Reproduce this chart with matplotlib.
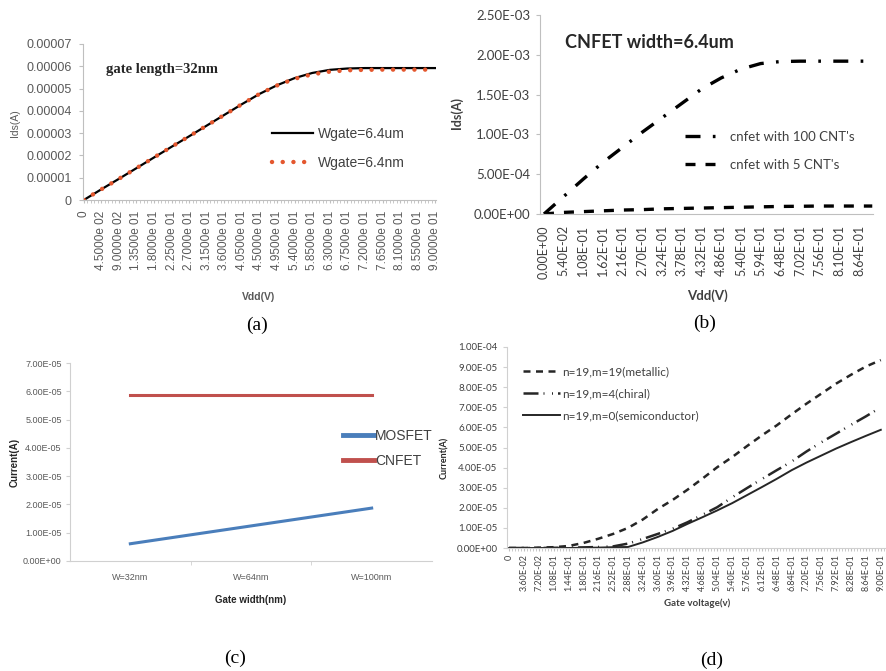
import matplotlib
matplotlib.use('Agg')
import matplotlib.pyplot as plt
from matplotlib.ticker import MultipleLocator

plt.rcParams['font.family'] = ['Liberation Sans', 'DejaVu Sans']

W, H = 887, 671

# ---------- (a) gate length = 32nm ----------
vdd_a = [0, 0.045, 0.09, 0.135, 0.18, 0.225, 0.27, 0.315, 0.36, 0.405, 0.45,
         0.495, 0.54, 0.585, 0.63, 0.675, 0.72, 0.765, 0.81, 0.855, 0.9]
ids_a_um = [0, 0.48e-5, 0.95e-5, 1.43e-5, 1.91e-5, 2.39e-5, 2.86e-5, 3.34e-5, 3.82e-5, 4.3e-5, 4.76e-5,
            5.15e-5, 5.47e-5, 5.7e-5, 5.84e-5, 5.9e-5, 5.92e-5, 5.92e-5, 5.92e-5, 5.92e-5, 5.92e-5]
ids_a_nm = [0, 0.48e-5, 0.95e-5, 1.43e-5, 1.91e-5, 2.39e-5, 2.86e-5, 3.34e-5, 3.82e-5, 4.3e-5, 4.76e-5,
            5.14e-5, 5.44e-5, 5.64e-5, 5.76e-5, 5.82e-5, 5.84e-5, 5.85e-5, 5.85e-5, 5.85e-5, 5.85e-5]
xlabels_a = ['0', '4.5000e 02', '9.0000e 02', '1.3500e 01', '1.8000e 01', '2.2500e 01',
             '2.7000e 01', '3.1500e 01', '3.6000e 01', '4.0500e 01', '4.5000e 01', '4.9500e 01',
             '5.4000e 01', '5.8500e 01', '6.3000e 01', '6.7500e 01', '7.2000e 01', '7.6500e 01',
             '8.1000e 01', '8.5500e 01', '9.0000e 01']
yticks_a = [0, 1e-5, 2e-5, 3e-5, 4e-5, 5e-5, 6e-5, 7e-5]
ylabels_a = ['0', '0.00001', '0.00002', '0.00003', '0.00004', '0.00005', '0.00006', '0.00007']

# ---------- (b) CNFET width = 6.4um ----------
vdd_b = [0, 0.054, 0.108, 0.162, 0.216, 0.27, 0.324, 0.378, 0.432, 0.486, 0.54,
         0.594, 0.648, 0.702, 0.756, 0.81, 0.864, 0.9]
ids_100 = [0, 0.22e-3, 0.44e-3, 0.65e-3, 0.84e-3, 1.03e-3, 1.21e-3, 1.39e-3, 1.57e-3, 1.71e-3, 1.82e-3,
           1.89e-3, 1.915e-3, 1.92e-3, 1.92e-3, 1.92e-3, 1.92e-3, 1.92e-3]
ids_5 = [0, 0.02e-3, 0.03e-3, 0.04e-3, 0.05e-3, 0.055e-3, 0.065e-3, 0.07e-3, 0.075e-3, 0.08e-3,
         0.085e-3, 0.09e-3, 0.095e-3, 0.097e-3, 0.1e-3, 0.1e-3, 0.1e-3, 0.1e-3]
xlabels_b = ['0.00E+00', '5.40E-02', '1.08E-01', '1.62E-01', '2.16E-01', '2.70E-01', '3.24E-01',
             '3.78E-01', '4.32E-01', '4.86E-01', '5.40E-01', '5.94E-01', '6.48E-01', '7.02E-01',
             '7.56E-01', '8.10E-01', '8.64E-01']
yticks_b = [0, 0.5e-3, 1.0e-3, 1.5e-3, 2.0e-3, 2.5e-3]
ylabels_b = ['0.00E+00', '5.00E-04', '1.00E-03', '1.50E-03', '2.00E-03', '2.50E-03']

# ---------- (c) MOSFET vs CNFET ----------
widths_c = ['W=32nm', 'W=64nm', 'W=100nm']
mosfet_c = [0.61e-5, 1.24e-5, 1.87e-5]
cnfet_c = [5.86e-5, 5.86e-5, 5.86e-5]
yticks_c = [0, 1e-5, 2e-5, 3e-5, 4e-5, 5e-5, 6e-5, 7e-5]
ylabels_c = ['0.00E+00', '1.00E-05', '2.00E-05', '3.00E-05', '4.00E-05', '5.00E-05', '6.00E-05', '7.00E-05']

# ---------- (d) chirality ----------
vg_d = [0, 0.036, 0.072, 0.108, 0.144, 0.18, 0.216, 0.252, 0.288, 0.324, 0.36, 0.396, 0.432,
        0.468, 0.504, 0.54, 0.576, 0.612, 0.648, 0.684, 0.72, 0.756, 0.792, 0.828, 0.864, 0.9]
i_metallic = [0, 0, 0.02e-5, 0.04e-5, 0.1e-5, 0.25e-5, 0.46e-5, 0.7e-5, 1.0e-5, 1.42e-5, 1.94e-5,
              2.39e-5, 2.9e-5, 3.45e-5, 4.02e-5, 4.52e-5, 5.07e-5, 5.6e-5, 6.1e-5, 6.65e-5, 7.18e-5,
              7.68e-5, 8.18e-5, 8.62e-5, 9.03e-5, 9.35e-5]
i_chiral = [0, 0, 0, 0.01e-5, 0.02e-5, 0.03e-5, 0.05e-5, 0.08e-5, 0.22e-5, 0.45e-5, 0.7e-5,
            0.96e-5, 1.28e-5, 1.65e-5, 2.03e-5, 2.52e-5, 2.98e-5, 3.43e-5, 3.87e-5, 4.3e-5, 4.8e-5,
            5.26e-5, 5.69e-5, 6.13e-5, 6.55e-5, 7.0e-5]
i_semi = [0, 0, 0, 0, 0, 0.01e-5, 0.02e-5, 0.04e-5, 0.05e-5, 0.28e-5, 0.55e-5, 0.85e-5, 1.2e-5,
          1.53e-5, 1.87e-5, 2.23e-5, 2.63e-5, 3.03e-5, 3.44e-5, 3.87e-5, 4.25e-5, 4.6e-5, 4.95e-5,
          5.27e-5, 5.58e-5, 5.88e-5]
xlabels_d = ['0', '3.60E-02', '7.20E-02', '1.08E-01', '1.44E-01', '1.80E-01', '2.16E-01', '2.52E-01',
             '2.88E-01', '3.24E-01', '3.60E-01', '3.96E-01', '4.32E-01', '4.68E-01', '5.04E-01',
             '5.40E-01', '5.76E-01', '6.12E-01', '6.48E-01', '6.84E-01', '7.20E-01', '7.56E-01',
             '7.92E-01', '8.28E-01', '8.64E-01', '9.00E-01']
yticks_d = [0, 1e-5, 2e-5, 3e-5, 4e-5, 5e-5, 6e-5, 7e-5, 8e-5, 9e-5, 1e-4]
ylabels_d = ['0.00E+00', '1.00E-05', '2.00E-05', '3.00E-05', '4.00E-05', '5.00E-05', '6.00E-05',
             '7.00E-05', '8.00E-05', '9.00E-05', '1.00E-04']


def rect(l, t, r, b):
    return [l / W, 1 - b / H, (r - l) / W, (b - t) / H]


def ftext(x, y, s, **kw):
    kw.setdefault('ha', 'center')
    kw.setdefault('va', 'center')
    fig.text(x / W, 1 - y / H, s, **kw)


def clean(ax, color='#BFBFBF'):
    for s in ['top', 'right']:
        ax.spines[s].set_visible(False)
    for s in ['left', 'bottom']:
        ax.spines[s].set_color(color)
        ax.spines[s].set_linewidth(0.8)


fig = plt.figure(figsize=(W / 100, H / 100), dpi=100)
grey = '#595959'
calibri = ['Lato', 'DejaVu Sans']
serif = ['Liberation Serif', 'DejaVu Serif']

# ----- (a) -----
ax = fig.add_axes(rect(83, 44, 436, 200))
clean(ax)
ax.plot(vdd_a, ids_a_um, color='black', lw=1.6, label='Wgate=6.4um')
ax.plot(vdd_a, ids_a_nm, color='#E4572E', lw=3.2, linestyle=(0, (0.01, 2.4)),
        dash_capstyle='round', label='Wgate=6.4nm')
ax.set_xlim(-0.002, 0.902)
ax.set_ylim(0, 7e-5)
ax.set_xticks(vdd_a)
ax.set_xticklabels(xlabels_a, rotation=90, fontsize=8.5, color=grey)
ax.xaxis.set_minor_locator(MultipleLocator(0.009))
ax.tick_params(axis='x', which='both', length=2.5, color='#BFBFBF', pad=5)
ax.set_yticks(yticks_a)
ax.set_yticklabels(ylabels_a, fontsize=9, color=grey)
ax.tick_params(axis='y', length=3, color='#BFBFBF', pad=5)
ax.legend(loc='upper left', bbox_to_anchor=(272 / W, 1 - 127 / H), bbox_transform=fig.transFigure,
          frameon=False, fontsize=10, handlelength=2.95, handletextpad=0.35, labelspacing=1.1,
          borderpad=0, borderaxespad=0, labelcolor='#404040')
ftext(15, 123, 'Ids(A)', rotation=90, fontsize=7.5, color=grey)
ftext(259, 297, 'Vdd(V)', fontsize=7.5, color=grey, fontweight='bold')
ftext(106, 69, 'gate length=32nm', ha='left', fontsize=10.5, fontweight='bold',
      family=serif, color='#262626')
ftext(257, 325, '(a)', fontsize=14, family=serif)

# ----- (b) -----
ax = fig.add_axes(rect(540, 15, 873, 214))
clean(ax)
ax.plot(vdd_b, ids_100, color='black', lw=2.4, linestyle=(0, (4.5, 3.7, 0.8, 3.7)),
        label="cnfet with 100 CNT's")
ax.plot(vdd_b, ids_5, color='black', lw=2.4, linestyle=(0, (3.0, 3.0)),
        label="cnfet with 5 CNT's")
ax.set_xlim(-0.011, 0.902)
ax.set_ylim(0, 2.5e-3)
ax.set_xticks(vdd_b[:17])
ax.set_xticklabels(xlabels_b, rotation=90, fontsize=9, color='#404040', family=calibri)
ax.tick_params(axis='x', length=0, pad=8)
ax.set_yticks(yticks_b)
ax.set_yticklabels(ylabels_b, fontsize=9.5, color='#404040', family=calibri)
ax.tick_params(axis='y', length=3, color='#BFBFBF', pad=4)
ax.legend(loc='upper left', bbox_to_anchor=(685 / W, 1 - 131 / H), bbox_transform=fig.transFigure,
          frameon=False, handlelength=2.4, handletextpad=1.0, labelspacing=1.2,
          borderpad=0, borderaxespad=0, labelcolor='#404040', prop={'family': calibri, 'size': 9.5})
ftext(457, 113, 'Ids(A)', rotation=90, fontsize=9, fontweight='bold', color='#404040', family=calibri)
ftext(707, 296, 'Vdd(V)', fontsize=9.5, fontweight='bold', color='#404040', family=calibri)
ftext(565, 42, 'CNFET width=6.4um', ha='left', fontsize=13, fontweight='bold', color='#262626',
      family=calibri)
ftext(705, 323, '(b)', fontsize=14, family=serif)

# ----- (c) -----
ax = fig.add_axes(rect(70, 363, 432, 561))
clean(ax, '#D0D0D0')
xc = range(len(widths_c))
ax.plot(xc, mosfet_c, color='#4A7EBB', lw=2.2, label='MOSFET')
ax.plot(xc, cnfet_c, color='#C0504D', lw=2.2, label='CNFET')
ax.set_xlim(-0.5, 2.5)
ax.set_ylim(0, 7e-5)
ax.set_xticks(list(xc))
ax.set_xticklabels(widths_c, fontsize=6.5, color=grey)
ax.set_xticks([0.5, 1.5], minor=True)
ax.tick_params(axis='x', which='major', length=0, pad=9)
ax.tick_params(axis='x', which='minor', length=3, color='#D0D0D0')
ax.set_yticks(yticks_c)
ax.set_yticklabels(ylabels_c, fontsize=6.5, color=grey)
ax.tick_params(axis='y', length=3, color='#D0D0D0', pad=3)
leg = ax.legend(loc='upper left', bbox_to_anchor=(343 / W, 1 - 429 / H), bbox_transform=fig.transFigure,
                frameon=False, handlelength=2.2, handletextpad=0.1, labelspacing=0.8,
                borderpad=0, borderaxespad=0, labelcolor='#404040', prop={'size': 10})
for h in leg.get_lines():
    h.set_linewidth(3.5)
ftext(15, 462, 'Current(A)', rotation=90, fontsize=7, fontweight='bold', color='#262626')
ftext(251, 600, 'Gate width(nm)', fontsize=7, fontweight='bold', color='#262626')
ftext(235, 658, '(c)', fontsize=14, family=serif)

# ----- (d) -----
ax = fig.add_axes(rect(507, 347, 887, 548))
clean(ax, '#D0D0D0')
ax.plot(vg_d, i_metallic, color='#262626', lw=1.8, linestyle=(0, (2.8, 2.2)),
        label='n=19,m=19(metallic)')
ax.plot(vg_d, i_chiral, color='#262626', lw=1.8, linestyle=(0, (6.0, 2.0, 0.4, 3.0, 0.4, 2.0)),
        label='n=19,m=4(chiral)')
ax.plot(vg_d, i_semi, color='#262626', lw=1.4, label='n=19,m=0(semiconductor)')
ax.set_xlim(-0.005, 0.915)
ax.set_ylim(0, 1e-4)
ax.set_xticks(vg_d)
ax.set_xticklabels(xlabels_d, rotation=90, fontsize=6.5, color='#404040', family=calibri)
ax.xaxis.set_minor_locator(MultipleLocator(0.0072))
ax.tick_params(axis='x', which='both', length=2.5, color='#C0C0C0', pad=2)
ax.set_yticks(yticks_d)
ax.set_yticklabels(ylabels_d, fontsize=7, color='#404040', family=calibri)
ax.tick_params(axis='y', length=3, color='#D0D0D0', pad=4)
ax.legend(loc='upper left', bbox_to_anchor=(523 / W, 1 - 366 / H), bbox_transform=fig.transFigure,
          frameon=False, handlelength=3.1, handletextpad=0.25, labelspacing=0.95,
          borderpad=0, borderaxespad=0, labelcolor='#404040', prop={'family': calibri, 'size': 8.5})
ftext(445, 458, 'Current(A)', rotation=90, fontsize=6.5, fontweight='bold', color='#262626', family=calibri)
ftext(697, 603, 'Gate voltage(v)', fontsize=7, fontweight='bold', color='#404040', family=calibri)
ftext(712, 660, '(d)', fontsize=14, family=serif)

fig.savefig('out.png', dpi=100)
